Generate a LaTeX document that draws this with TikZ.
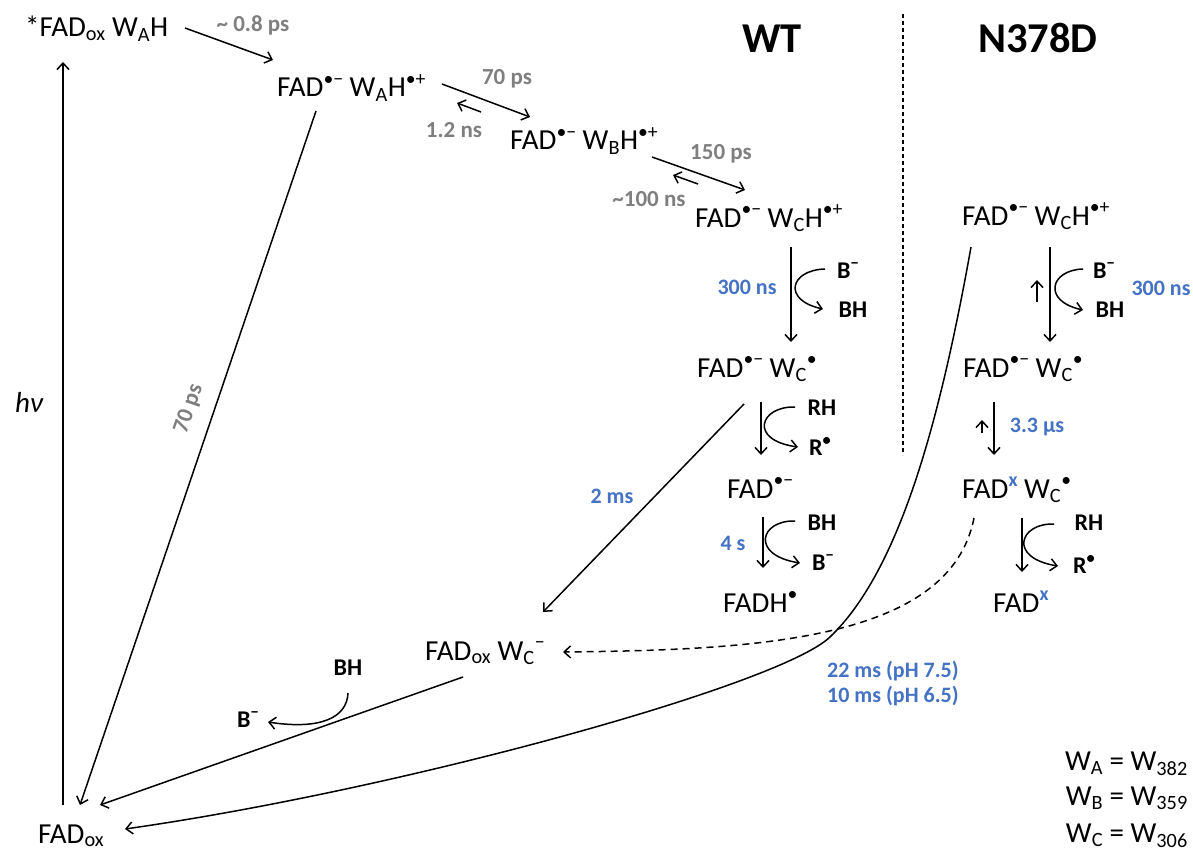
\documentclass[tikz,border=0pt]{standalone}
\usepackage{fontspec}
\setmainfont{Carlito}
\usetikzlibrary{arrows.meta}
\definecolor{rgray}{HTML}{7F7F7F}
\definecolor{rblue}{HTML}{4472C4}
\newcommand{\rsup}[1]{\raisebox{0.4em}{\scalebox{0.68}{#1}}}
\newcommand{\rsub}[1]{\textsubscript{#1}}
\begin{document}
\begin{tikzpicture}[x=1pt,y=-1pt,
  species/.style={anchor=base west, inner sep=0pt, font=\fontsize{29}{33}\selectfont},
  chem/.style={anchor=base, inner sep=0pt, font=\fontsize{24}{28}\selectfont\bfseries},
  grayrate/.style={anchor=base, inner sep=0pt, text=rgray, font=\fontsize{23}{27}\selectfont\bfseries},
  bluerate/.style={anchor=base, inner sep=0pt, text=rblue, font=\fontsize{22}{26}\selectfont\bfseries},
  title/.style={anchor=base, inner sep=0pt, font=\fontsize{42.5}{48}\selectfont\bfseries},
  legend/.style={anchor=base east, inner sep=0pt, font=\fontsize{29}{33}\selectfont},
  conn/.style={line width=1.5pt, -{Straight Barb[length=6.5pt,width=12pt]}},
  dashconn/.style={conn, dash pattern=on 7pt off 5pt},
  divider/.style={line width=1.4pt, dash pattern=on 4pt off 3pt}
]
\useasboundingbox (0,0) rectangle (1193,853);

% species
\node[species] (nstar) at (25,37) {*FAD\rsub{ox} W\rsub{A}H};
\node[species] (nwaH) at (277,97) {FAD\rsup{•−} W\rsub{A}H\rsup{•+}};
\node[species] (nwbH) at (510,150) {FAD\rsup{•−} W\rsub{B}H\rsup{•+}};
\node[species] (nwcH) at (695,227) {FAD\rsup{•−} W\rsub{C}H\rsup{•+}};
\node[species] (nwc) at (697,377) {FAD\rsup{•−} W\rsub{C}\rsup{•}};
\node[species] (nfadr) at (727,498) {FAD\rsup{•−}};
\node[species] (nfadh) at (723,612) {FADH\rsup{•}};
\node[species] (nfadoxwc) at (425,660) {FAD\rsub{ox} W\rsub{C}\rsup{−}};
\node[species] (nfadox) at (38,843) {FAD\rsub{ox}};
\node[species] (mwcH) at (962,225) {FAD\rsup{•−} W\rsub{C}H\rsup{•+}};
\node[species] (mwc) at (963,377) {FAD\rsup{•−} W\rsub{C}\rsup{•}};
\node[species] (mfadxwc) at (962,498) {FAD\textcolor{rblue}{\rsup{\bfseries x}} W\rsub{C}\rsup{•}};
\node[species] (mfadx) at (993,612) {FAD\textcolor{rblue}{\rsup{\bfseries x}}};

% titles
\node[title] (twt) at (772,53) {WT};
\node[title] (tmut) at (1038,53) {N378D};

% h nu
\node[inner sep=0pt, font=\fontsize{29}{33}\selectfont\itshape] (hnu) at (29,402) {hν};

% gray rates
\node[grayrate] (r08) at (253,32) {\textasciitilde{} 0.8 ps};
\node[grayrate] (r70) at (507,85) {70 ps};
\node[grayrate] (r12) at (454,138) {1.2 ns};
\node[grayrate] (r150) at (721,160) {150 ps};
\node[grayrate] (r100) at (649,207) {\textasciitilde100 ns};
\node[grayrate, anchor=center, rotate=71] (r70b) at (189,409) {70 ps};

% blue rates
\node[bluerate] (b300) at (747,294) {300 ns};
\node[bluerate] (b2ms) at (612,503) {2 ms};
\node[bluerate] (b4s) at (733,550) {4 s};
\node[bluerate] (m300) at (1161,295) {300 ns};
\node[bluerate] (m33) at (1037,432) {3.3 μs};
\node[bluerate, anchor=base west] (m22) at (827,677) {22 ms (pH 7.5)};
\node[bluerate, anchor=base west] (m10) at (827,702) {10 ms (pH 6.5)};

% chem labels
\node[chem] (wBm1) at (848,278) {B\rsup{−}};
\node[chem] (wBH1) at (853,317) {BH};
\node[chem] (wRH) at (822,415) {RH};
\node[chem] (wR) at (820,455) {R\rsup{•}};
\node[chem] (wBH2) at (822,530) {BH};
\node[chem] (wBm2) at (823,570) {B\rsup{−}};
\node[chem] (mBm) at (1104,278) {B\rsup{−}};
\node[chem] (mBH) at (1110,317) {BH};
\node[chem] (mRH) at (1089,530) {RH};
\node[chem] (mR) at (1084,573) {R\rsup{•}};
\node[chem] (lBH) at (348,675) {BH};
\node[chem] (lBm) at (248,727) {B\rsup{−}};

% legend
\node[legend] (lega) at (1188,770) {W\rsub{A} = W\rsub{382}};
\node[legend] (legb) at (1188,805) {W\rsub{B} = W\rsub{359}};
\node[legend] (legc) at (1188,842) {W\rsub{C} = W\rsub{306}};

% divider
\coordinate (divtop) at (903,14);
\coordinate (divbot) at (903,455);
\draw[divider] (divtop) -- (divbot);

% connectors
\draw[conn] ([shift={(25,-38)}]nfadox.base west) -- ([shift={(38,25)}]nstar.base west);
\draw[conn] ([shift={(160,-9)}]nstar.base west) -- ([shift={(-4,-37)}]nwaH.base west);
\draw[conn] ([shift={(39,14)}]nwaH.base west) -- ([shift={(42,-38)}]nfadox.base west);
\draw[conn] ([shift={(165,-13)}]nwaH.base west) -- ([shift={(20,-33)}]nwbH.base west);
\draw[conn] ([shift={(-29,-38)}]nwbH.base west) -- ([shift={(180,6)}]nwaH.base west);
\draw[conn] ([shift={(142,7)}]nwbH.base west) -- ([shift={(50,-37)}]nwcH.base west);
\draw[conn] ([shift={(3,-43)}]nwcH.base west) -- ([shift={(163,25)}]nwbH.base west);
\draw[conn] ([shift={(96,20)}]nwcH.base west) -- ([shift={(94,-35)}]nwc.base west);
\draw[conn] ([shift={(-23,-9)}]wBm1.base) .. controls +(-35,1) and +(-41,-9) .. ([shift={(-30,-8)}]wBH1.base);
\draw[conn] ([shift={(47,27)}]nwc.base west) -- ([shift={(118,-48)}]nfadoxwc.base west);
\draw[conn] ([shift={(64,25)}]nwc.base west) -- ([shift={(34,-43)}]nfadr.base west);
\draw[conn] ([shift={(-27,-8)}]wRH.base) .. controls +(-35,-1) and +(-50,-7) .. ([shift={(-22,-8)}]wR.base);
\draw[conn] ([shift={(36,19)}]nfadr.base west) -- ([shift={(40,-44)}]nfadh.base west);
\draw[conn] ([shift={(-27,-9)}]wBH2.base) .. controls +(-35,-1) and +(-50,-8) .. ([shift={(-23,-7)}]wBm2.base);

\draw[conn] ([shift={(88,22)}]mwcH.base west) -- ([shift={(87,-35)}]mwc.base west);
\draw[conn] ([shift={(75,77)}]mwcH.base west) -- ([shift={(75,55)}]mwcH.base west);
\draw[conn] ([shift={(-21,-9)}]mBm.base) .. controls +(-33,1) and +(-41,-9) .. ([shift={(-27,-7)}]mBH.base);
\draw[conn] ([shift={(31,25)}]mwc.base west) -- ([shift={(32,-43)}]mfadxwc.base west);
\draw[conn] ([shift={(19,56)}]mwc.base west) -- ([shift={(19,43)}]mwc.base west);
\draw[conn] ([shift={(60,20)}]mfadxwc.base west) -- ([shift={(29,-40)}]mfadx.base west);
\draw[conn] ([shift={(-35,-6)}]mRH.base) .. controls +(-35,-1) and +(-50,-8) .. ([shift={(-26,-7)}]mR.base);

\draw[dashconn] ([shift={(12,20)}]mfadxwc.base west) .. controls (950,640) and (760,650) .. ([shift={(138,-8)}]nfadoxwc.base west);
\draw[conn] ([shift={(9,22)}]mwcH.base west) .. controls (940,420) and (900,570) .. (830,637) .. controls (780,685) and (400,790) .. ([shift={(87,-14)}]nfadox.base west);

\draw[conn] ([shift={(38,17)}]nfadoxwc.base west) -- ([shift={(62,-38)}]nfadox.base west);
\draw[conn] ([shift={(0,18)}]lBH.base) .. controls +(-1,25) and +(52,8) .. ([shift={(20,-5)}]lBm.base);
\end{tikzpicture}
\end{document}
